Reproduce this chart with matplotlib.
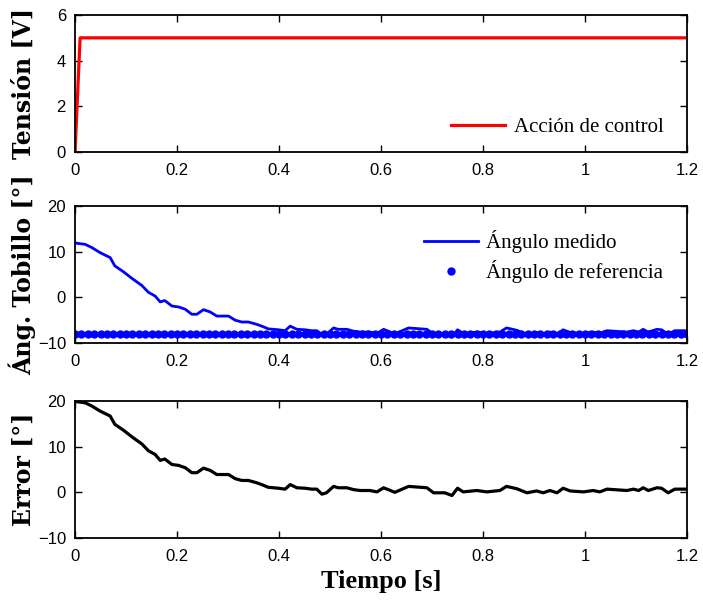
import numpy as np
import matplotlib
matplotlib.use("Agg")
import matplotlib.pyplot as plt

# ---- data -------------------------------------------------------------
# control voltage (step to 5 V)
t_volt = [0.0, 0.01, 1.2]
volt = [0.0, 5.0, 5.0]

# measured ankle angle [deg]
t_meas = [0.000, 0.020, 0.033, 0.049, 0.069, 0.078, 0.095, 0.111, 0.131, 0.144,
          0.157, 0.167, 0.176, 0.190, 0.203, 0.216, 0.229, 0.239, 0.252, 0.265,
          0.278, 0.301, 0.314, 0.327, 0.340, 0.356, 0.366, 0.379, 0.399, 0.412,
          0.422, 0.435, 0.451, 0.464, 0.474, 0.484, 0.493, 0.507, 0.516, 0.533,
          0.546, 0.559, 0.578, 0.592, 0.605, 0.614, 0.627, 0.654, 0.690, 0.703,
          0.725, 0.739, 0.750, 0.761, 0.788, 0.807, 0.833, 0.846, 0.866, 0.886,
          0.905, 0.918, 0.931, 0.945, 0.957, 0.971, 0.997, 1.016, 1.029, 1.043,
          1.082, 1.095, 1.105, 1.114, 1.124, 1.141, 1.150, 1.163, 1.176, 1.200]
ang_meas = [11.9, 11.6, 10.9, 9.8, 8.7, 6.9, 5.6, 4.2, 2.6, 1.1,
            0.3, -1.0, -0.7, -1.9, -2.1, -2.6, -3.7, -3.7, -2.7, -3.2,
            -4.1, -4.1, -5.0, -5.4, -5.4, -5.9, -6.3, -6.9, -7.1, -7.3,
            -6.3, -7.0, -7.1, -7.3, -7.3, -8.4, -8.1, -6.7, -7.0, -7.0,
            -7.4, -7.6, -7.6, -7.9, -7.0, -7.4, -8.0, -6.7, -7.0, -8.1,
            -8.1, -8.7, -7.1, -7.9, -7.6, -7.9, -7.6, -6.7, -7.2, -8.1,
            -7.7, -8.1, -7.6, -8.1, -7.1, -7.7, -7.9, -7.6, -7.9, -7.3,
            -7.6, -7.3, -7.6, -7.0, -7.6, -7.0, -7.1, -8.1, -7.3, -7.3]

# reference angle [deg], sampled every 12.5 ms
ref_angle = -8.0
t_ref = np.arange(0.0, 1.2 + 1e-9, 0.0125)
ang_ref = np.full_like(t_ref, ref_angle)

# tracking error = measured - reference
err = np.array(ang_meas) - ref_angle

# ---- figure -----------------------------------------------------------
fig = plt.figure(figsize=(7.03, 6.02), dpi=100)
left, width, h = 0.1067, 0.8706, 0.2276
ax1 = fig.add_axes([left, 0.7475, width, h])
ax2 = fig.add_axes([left, 0.4302, width, h])
ax3 = fig.add_axes([left, 0.1063, width, h])

tick_font = {"family": "Liberation Sans", "size": 12}
label_font = {"family": "DejaVu Serif", "weight": "bold", "size": 17}
leg_font = {"family": "Liberation Serif", "size": 15}

ax1.plot(t_volt, volt, color="#ff0000", lw=2.3, label="Acción de control")
ax2.plot(t_meas, ang_meas, color="#0000ff", lw=2.0, label="Ángulo medido")
ax2.plot(t_ref, ang_ref, ls="none", marker="o", ms=5, color="#0000ff",
         label="Ángulo de referencia")
ax3.plot(t_meas, err, color="black", lw=2.3)

ax1.set_ylim(0, 6)
ax1.set_yticks([0, 2, 4, 6])
for ax in (ax2, ax3):
    ax.set_ylim(-10, 20)
    ax.set_yticks([-10, 0, 10, 20])

for ax in (ax1, ax2, ax3):
    ax.set_xlim(0, 1.2)
    ax.set_xticks([0, 0.2, 0.4, 0.6, 0.8, 1.0, 1.2])
    ax.set_xticklabels(["0", "0.2", "0.4", "0.6", "0.8", "1", "1.2"])
    ax.tick_params(direction="in", top=True, right=True, length=5, width=1)
    ax.tick_params(axis="x", pad=8)
    ax.tick_params(axis="y", pad=6.5)
    for lab in ax.get_xticklabels() + ax.get_yticklabels():
        lab.set_fontfamily(tick_font["family"])
        lab.set_fontsize(tick_font["size"])
    for sp in ax.spines.values():
        sp.set_linewidth(1.3)

ax1.set_ylabel("Tensión [V]", **label_font)
ax2.set_ylabel("Áng. Tobillo [°]", **label_font)
ax3.set_ylabel("Error [°]", **label_font)
for ax in (ax1, ax2, ax3):
    ax.yaxis.set_label_coords(-0.064, 0.5)

ax3.set_xlabel("Tiempo [s]", family="Liberation Serif", weight="bold", size=19)
ax3.xaxis.set_label_coords(0.5, -0.235)

ax1.legend(loc="center right", bbox_to_anchor=(0.975, 0.18), frameon=False,
           prop=leg_font, handlelength=2.6, handletextpad=0.4,
           borderaxespad=0)
ax2.legend(loc="upper right", bbox_to_anchor=(0.975, 0.886), frameon=False,
           prop=leg_font, handlelength=2.6, handletextpad=0.4,
           labelspacing=0.35, borderaxespad=0)

fig.savefig("out.png", dpi=100)
